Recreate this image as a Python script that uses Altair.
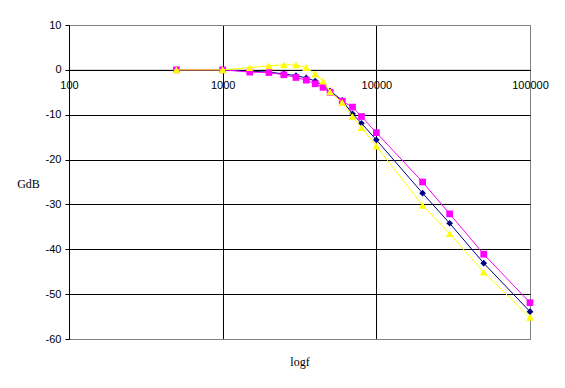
import altair as alt
import pandas as pd

freqs = [500, 1000, 1500, 2000, 2500, 3000, 3500, 4000, 4500, 5000,
         6000, 7000, 8000, 10000, 20000, 30000, 50000, 100000]
navy_vals = [0, 0, -0.3, -0.5, -0.9, -1.3, -1.8, -2.5, -3.4, -4.7,
             -6.8, -9.8, -11.9, -15.6, -27.5, -34.2, -43.1, -53.9]
magenta_vals = [0, 0, -0.5, -0.6, -1.1, -1.7, -2.3, -3.1, -3.9, -5.0,
                -7.0, -8.3, -10.4, -14.0, -25.0, -32.1, -41.1, -51.9]
yellow_vals = [0, 0, 0.5, 0.9, 1.1, 1.1, 0.5, -0.9, -2.5, -4.9,
               -7.3, -10.4, -12.9, -17.0, -30.2, -36.5, -45.1, -55.2]
x_ticks = [100, 1000, 10000, 100000]
y_ticks = [-60, -50, -40, -30, -20, -10, 0, 10]

series = [
    ("navy", navy_vals, "#000080", "diamond", 45),
    ("magenta", magenta_vals, "#FF00FF", "square", 45),
    ("yellow", yellow_vals, "#FFFF00", "triangle-up", 60),
]

W, H = 461, 314
zero_px = H * 10 / 70  # pixel position of y=0 from top

x_scale = alt.Scale(type="log", domain=[100, 100000], nice=False)
y_scale = alt.Scale(domain=[-60, 10], nice=False, zero=False)

x_axis = alt.Axis(
    values=x_ticks, format="d", offset=-(H - zero_px), tickSize=0,
    labelPadding=10, labelFlush=False, labelOverlap=False,
    labelFont="Liberation Sans", labelFontSize=11, labelColor="black",
    domainColor="black", domainWidth=1,
    grid=True,
    gridColor={"condition": {"test": "datum.value == 100000", "value": "#808080"}, "value": "black"},
    gridWidth=1, gridOpacity=1,
    title="logf", titleFont="Liberation Serif", titleFontSize=12, titleFontWeight="normal",
    titleColor="black", titleX=W / 2, titleY=361 - 25 - zero_px, titleBaseline="middle",
    titleAlign="center",
)
y_axis = alt.Axis(
    values=y_ticks, tickSize=4, tickColor="black", labelPadding=4,
    labelExpr="'' + datum.value",
    labelFont="Liberation Sans", labelFontSize=11, labelColor="black",
    domainColor="black", domainWidth=1,
    grid=True,
    gridColor={"condition": {"test": "datum.value == 10 || datum.value == -60", "value": "#808080"}, "value": "black"},
    gridWidth=1, gridOpacity=1,
    title="GdB", titleFont="Liberation Serif", titleFontSize=12, titleFontWeight="normal",
    titleColor="black", titleAngle=0, titleAlign="center", titleBaseline="middle",
    titleX=-41, titleY=H / 2 + 1,
)

layers = []
first = True
for name, vals, color, shape, size in series:
    df = pd.DataFrame({"f": freqs, "g": vals})
    if first:
        xenc = alt.X("f:Q", scale=x_scale, axis=x_axis)
        yenc = alt.Y("g:Q", scale=y_scale, axis=y_axis)
    else:
        xenc = alt.X("f:Q", scale=x_scale)
        yenc = alt.Y("g:Q", scale=y_scale)
    line = alt.Chart(df).mark_line(color=color, strokeWidth=1, clip=True).encode(x=xenc, y=yenc)
    pts = alt.Chart(df).mark_point(color=color, filled=True, shape=shape, size=size,
                                   opacity=1, strokeWidth=0).encode(
        x=alt.X("f:Q", scale=x_scale),
        y=alt.Y("g:Q", scale=y_scale))
    layers += [line, pts]
    first = False

chart = alt.layer(*layers).properties(
    width=W, height=H,
    autosize=alt.AutoSizeParams(type="none"),
    padding={"left": 61, "top": 17, "right": 20, "bottom": 30},
    background="white",
).configure_view(stroke="#808080", strokeWidth=1)

chart.save("out.html", embed_options={"renderer": "svg", "actions": False})
